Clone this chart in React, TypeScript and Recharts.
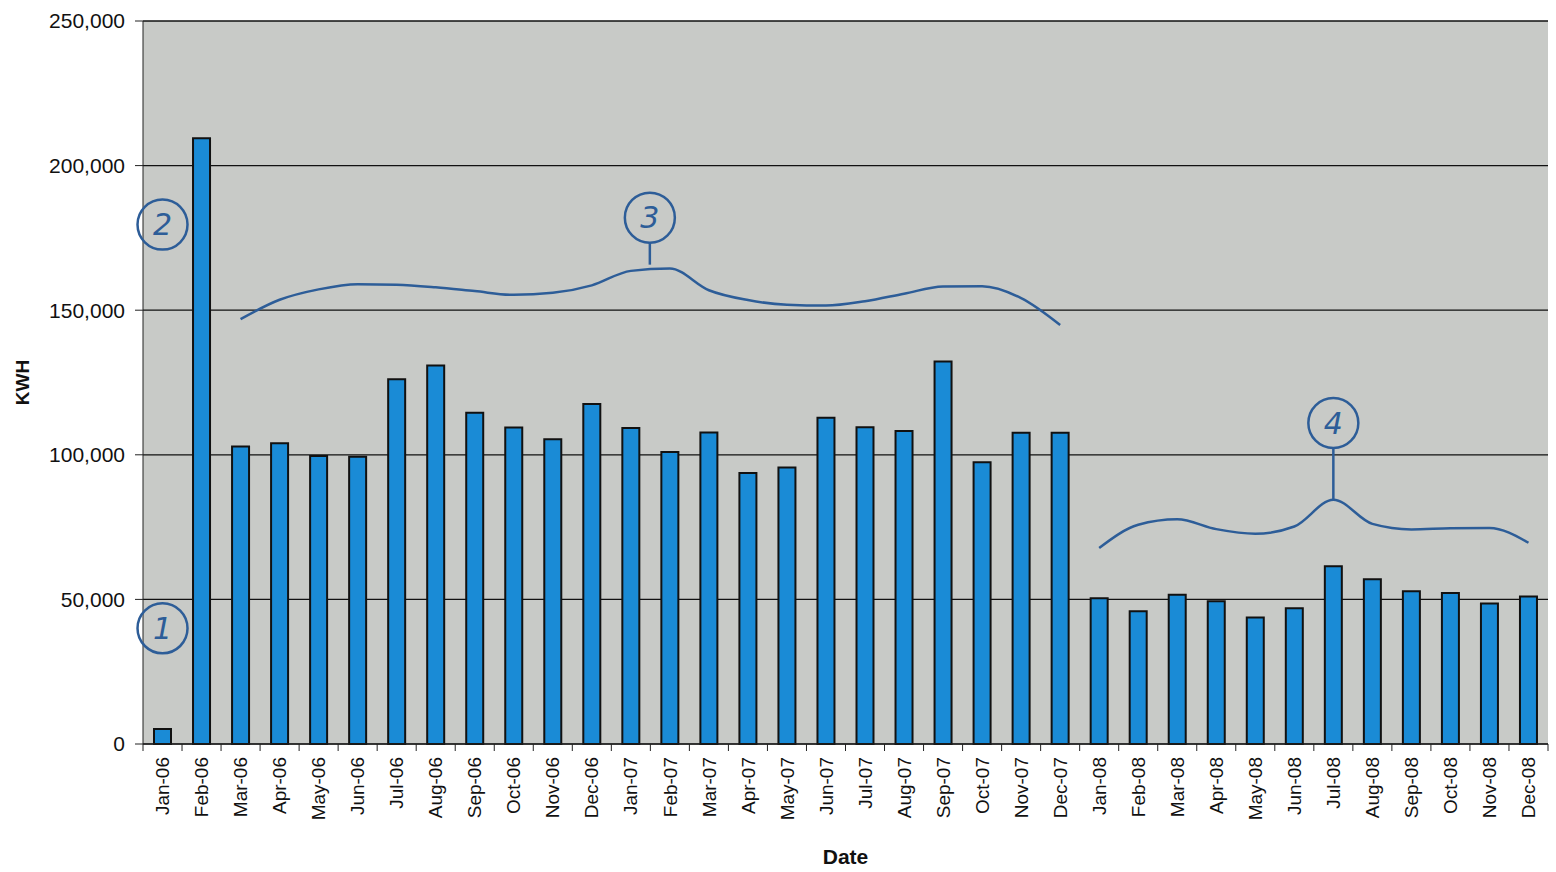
import React from "react";
import {
  ComposedChart,
  Bar,
  Line,
  XAxis,
  YAxis,
  CartesianGrid,
  ReferenceDot,
  ReferenceLine,
} from "recharts";

// Monthly categories on the x axis.
const months = [
  "Jan-06", "Feb-06", "Mar-06", "Apr-06", "May-06", "Jun-06",
  "Jul-06", "Aug-06", "Sep-06", "Oct-06", "Nov-06", "Dec-06",
  "Jan-07", "Feb-07", "Mar-07", "Apr-07", "May-07", "Jun-07",
  "Jul-07", "Aug-07", "Sep-07", "Oct-07", "Nov-07", "Dec-07",
  "Jan-08", "Feb-08", "Mar-08", "Apr-08", "May-08", "Jun-08",
  "Jul-08", "Aug-08", "Sep-08", "Oct-08", "Nov-08", "Dec-08",
];

// Monthly consumption.
const kwh = [
  5200, 209500, 102900, 104000, 99600, 99300,
  126100, 130900, 114500, 109400, 105400, 117600,
  109300, 101000, 107700, 93700, 95600, 112800,
  109500, 108200, 132300, 97400, 107600, 107600,
  50400, 45900, 51600, 49400, 43700, 46900,
  61500, 57000, 52800, 52200, 48600, 51000,
];

// Hand-drawn braces over groups 3 and 4 (approximate pen path).
const brace3 = [
  null, null, 146900, 153600, 157200, 159000,
  158800, 157900, 156600, 155300, 156000, 158600,
  163600, 164400, 156900, 153500, 151900, 151600,
  153100, 155700, 158200, 158300, 154200, 144900,
  null, null, null, null, null, null,
  null, null, null, null, null, null,
];
const brace4 = [
  null, null, null, null, null, null,
  null, null, null, null, null, null,
  null, null, null, null, null, null,
  null, null, null, null, null, null,
  67800, 75800, 77700, 74300, 72700, 75200,
  84500, 76100, 74200, 74600, 74700, 69600,
];

const yTicks = [0, 50000, 100000, 150000, 200000, 250000];

const data = months.map((m, i) => ({
  month: m,
  kwh: kwh[i],
  brace3: brace3[i],
  brace4: brace4[i],
}));

const FONT = "'Liberation Sans', Arial, sans-serif";
const INK = "#2d5d98";

// Excel style: rotated labels under the bars, tick marks between categories.
function DateTick(props: any) {
  const { x, y, payload, index } = props;
  const half = payload.offset || 19.5;
  const axisY = y - 13;
  return (
    <g>
      <line x1={x - half} y1={axisY} x2={x - half} y2={axisY + 7} stroke="#222" />
      {index === months.length - 1 && (
        <line x1={x + half} y1={axisY} x2={x + half} y2={axisY + 7} stroke="#222" />
      )}
      <text
        x={x}
        y={y}
        transform={`rotate(-90, ${x}, ${y})`}
        textAnchor="end"
        dy="0.35em"
        fontSize={19}
        fill="#111"
        fontFamily={FONT}
      >
        {payload.value}
      </text>
    </g>
  );
}

// Circled note number, optionally shifted and with a stem down to a brace.
function note(label: string, dx = 0, stem = 0) {
  return (p: any) => {
    const cx = p.cx + dx;
    const cy = p.cy;
    return (
      <g>
        <circle cx={cx} cy={cy} r={25} fill="none" stroke={INK} strokeWidth={2.5} />
        {stem > 0 && (
          <line x1={cx} y1={cy + 25} x2={cx} y2={cy + 25 + stem} stroke={INK} strokeWidth={2.5} />
        )}
        <text
          x={cx}
          y={cy}
          dy="0.36em"
          textAnchor="middle"
          fontSize={30}
          fontStyle="italic"
          fill={INK}
          fontFamily="'DejaVu Sans', sans-serif"
        >
          {label}
        </text>
      </g>
    );
  };
}

export default function App() {
  return (
    <div style={{ position: "absolute", left: 0, top: 0, background: "#fff" }}>
      <ComposedChart
        width={1556}
        height={872}
        data={data}
        margin={{ top: 21, right: 8, bottom: 0, left: 0 }}
        barCategoryGap={0}
      >
        <CartesianGrid vertical={false} stroke="#111" strokeWidth={1.3} fill="#c8cac7" fillOpacity={1} />
        <XAxis
          dataKey="month"
          interval={0}
          height={128}
          tickSize={7}
          tickMargin={6}
          tickLine={false}
          axisLine={{ stroke: "#222" }}
          tick={<DateTick />}
          label={{
            value: "Date",
            position: "insideBottom",
            offset: 8,
            fontSize: 21,
            fontWeight: "bold",
            fill: "#111",
            fontFamily: FONT,
          }}
        />
        <YAxis
          width={143}
          domain={[0, 250000]}
          ticks={yTicks}
          interval={0}
          tickSize={8}
          tickMargin={10}
          tickFormatter={(v: number) => v.toLocaleString("en-US")}
          tick={{ fontSize: 21, fill: "#111", fontFamily: FONT }}
          tickLine={{ stroke: "#222" }}
          axisLine={{ stroke: "#222" }}
          label={{
            content: (p: any) => {
              const vb = p.viewBox;
              const lx = vb.x + 22;
              const ly = vb.y + vb.height / 2;
              return (
                <text
                  x={lx}
                  y={ly}
                  transform={`rotate(-90, ${lx}, ${ly})`}
                  textAnchor="middle"
                  dy="0.35em"
                  fontSize={19}
                  fontWeight="bold"
                  fill="#111"
                  fontFamily={FONT}
                >
                  KWH
                </text>
              );
            },
          }}
        />
        <Bar
          dataKey="kwh"
          barSize={17}
          fill="#1a8bd6"
          stroke="#111"
          strokeWidth={2}
          isAnimationActive={false}
        />
        <Line
          dataKey="brace3"
          type="monotone"
          stroke={INK}
          strokeWidth={2.5}
          dot={false}
          activeDot={false}
          isAnimationActive={false}
        />
        <Line
          dataKey="brace4"
          type="monotone"
          stroke={INK}
          strokeWidth={2.5}
          dot={false}
          activeDot={false}
          isAnimationActive={false}
        />
        <ReferenceLine
          segment={[
            { x: "Jul-08", y: 102000 },
            { x: "Jul-08", y: 84500 },
          ]}
          stroke={INK}
          strokeWidth={2.5}
        />
        <ReferenceDot x="Jan-06" y={40000} r={25} shape={note("1")} />
        <ReferenceDot x="Jan-06" y={179600} r={25} shape={note("2")} />
        <ReferenceDot x="Jan-07" y={182000} r={25} shape={note("3", 19, 22)} />
        <ReferenceDot x="Jul-08" y={111000} r={25} shape={note("4")} />
      </ComposedChart>
    </div>
  );
}
